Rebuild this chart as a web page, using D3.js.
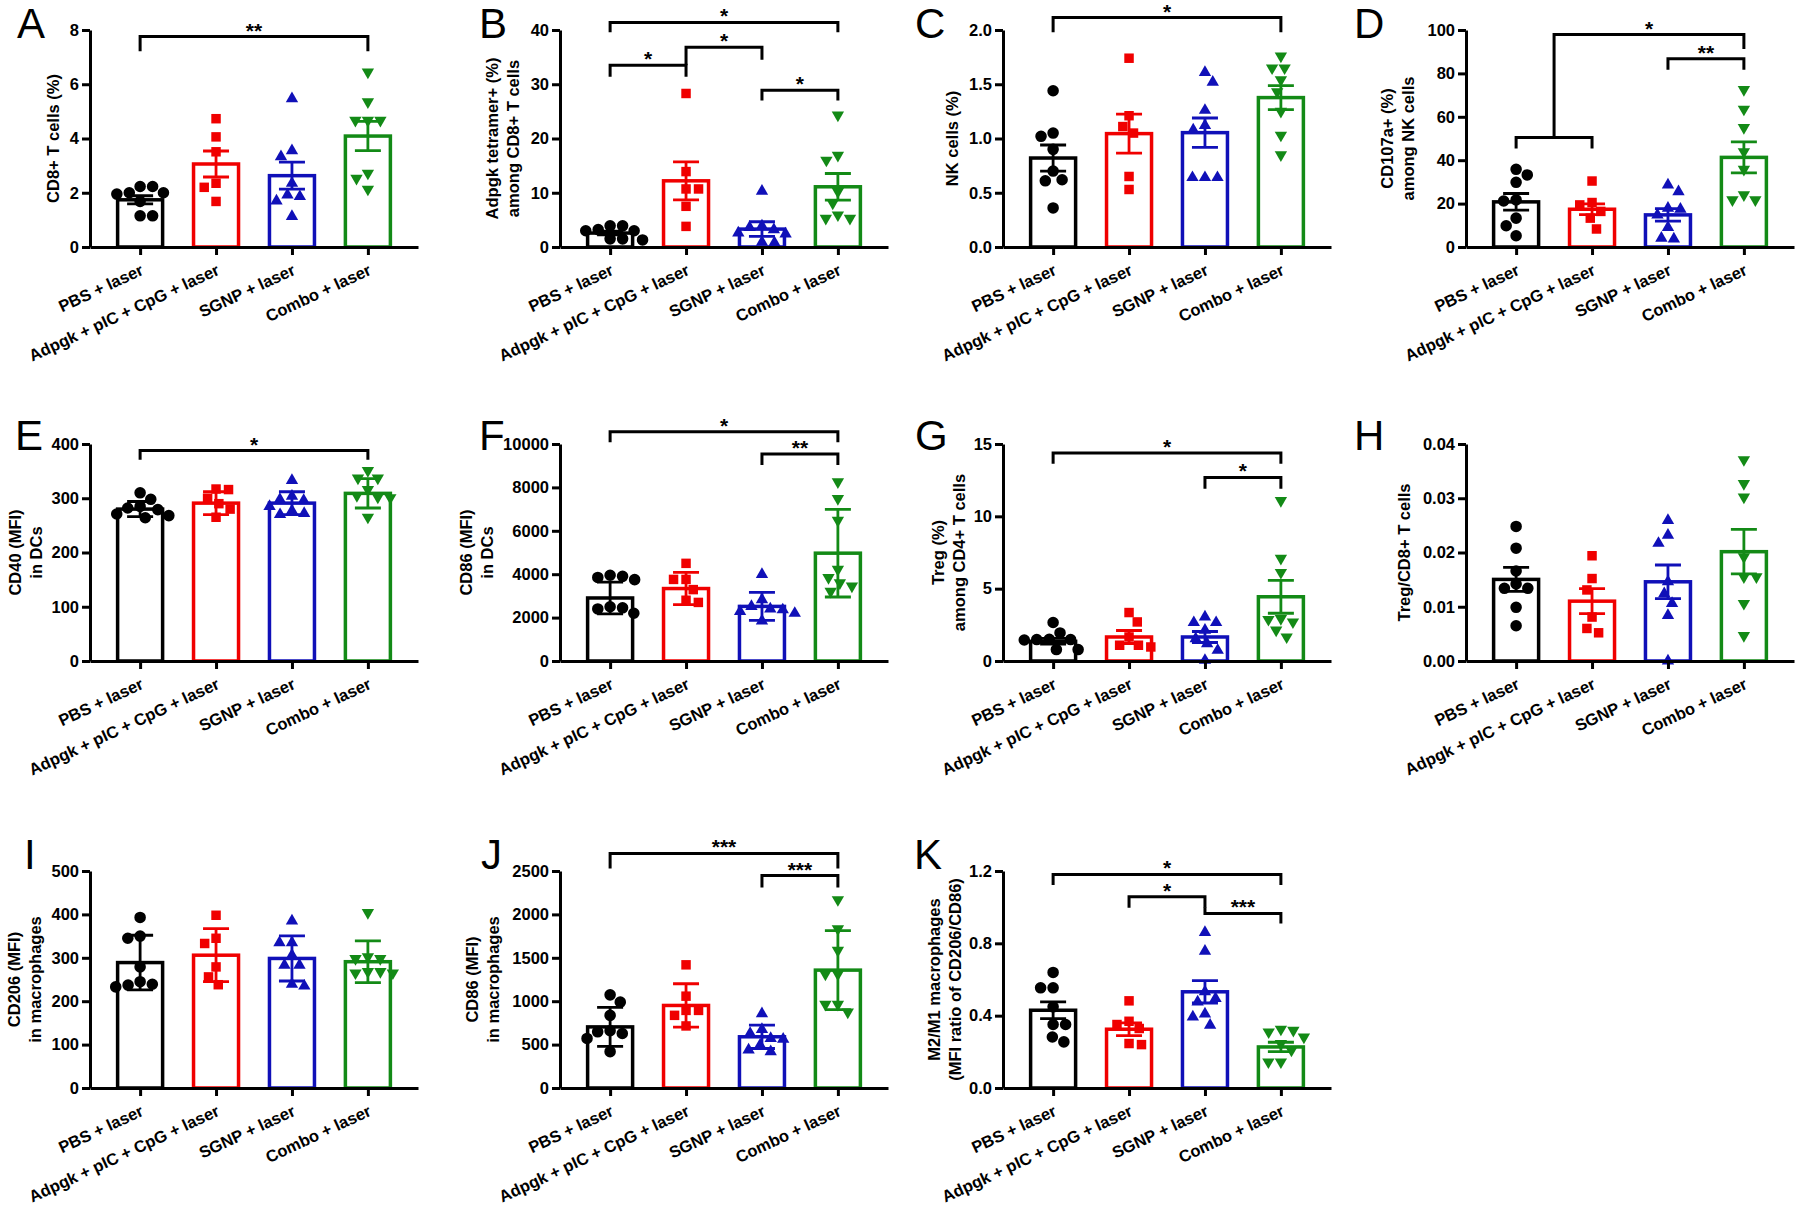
<!DOCTYPE html>
<html>
<head>
<meta charset="utf-8">
<script src="https://cdn.jsdelivr.net/npm/d3@7/dist/d3.min.js"></script>
<style>
  body { margin: 0; background: #fff; }
  svg text { font-family: "Liberation Sans", Arial, sans-serif; }
</style>
</head>
<body>
<svg id="fig" width="1800" height="1210"></svg>
<script>
var groups = ['PBS + laser', 'Adpgk + pIC + CpG + laser', 'SGNP + laser', 'Combo + laser'];
var colors = ['#000000', '#f00000', '#1010b8', '#138a16'];
var shapes = ['circle', 'square', 'triangle', 'triangleDown'];

// A: CD8+ T cells
var aPts = [
  [2.23, 2.23, 2.0, 1.95, 2.0, 1.68, 1.15, 1.15],
  [4.73, 4.06, 3.51, 2.35, 2.2, 1.68],
  [5.47, 3.55, 3.33, 2.35, 1.92, 1.86, 1.7, 1.13],
  [6.45, 5.35, 4.67, 4.67, 4.67, 2.72, 2.53, 2.13]
];
var aMean = [1.74, 3.06, 2.63, 4.09];
var aErr = [0.15, 0.48, 0.5, 0.54];
var aTicks = [0, 2, 4, 6, 8];
var aSig = [[0, 3, 7.76, 7.22, 7.22, '**']];

// B: Adpgk tetramer+
var bPts = [
  [3.9, 3.9, 3.2, 3.0, 3.0, 1.5, 1.5, 1.3],
  [28.3, 13.9, 10.7, 10.7, 7.5, 3.8],
  [10.3, 3.9, 3.6, 3.2, 2.6, 2.4, 0.9, 0.8],
  [24.3, 16.9, 16.0, 10.2, 8.1, 5.9, 5.3, 5.3]
];
var bMean = [2.57, 12.2, 3.3, 11.1];
var bErr = [0.35, 3.5, 1.35, 2.45];
var bTicks = [0, 10, 20, 30, 40];
var bSig = [[0, 3, 41.4, 39.6, 39.6, '*'], [0, 1, 33.5, 31.4, 31.4, '*'],
            [1, 2, 36.8, 33.5, 34.5, '*'], [2, 3, 28.9, 27.0, 27.0, '*']];

// C: NK cells
var cPts = [
  [1.44, 1.05, 1.02, 0.90, 0.70, 0.62, 0.61, 0.36],
  [1.74, 1.21, 1.11, 1.05, 0.65, 0.53],
  [1.61, 1.52, 1.26, 1.12, 1.08, 0.64, 0.64, 0.64],
  [1.76, 1.65, 1.65, 1.54, 1.43, 1.25, 1.03, 0.85]
];
var cMean = [0.82, 1.045, 1.054, 1.377];
var cErr = [0.12, 0.18, 0.135, 0.11];
var cTicks = [0, 0.5, 1.0, 1.5, 2.0];
var cSig = [[0, 3, 2.115, 1.98, 1.98, '*']];

// D: CD107a+ among NK
var dPts = [
  [35.8, 33.2, 29.8, 21.7, 21.2, 13.3, 9.8, 5.2],
  [30.4, 20.5, 19.4, 16.4, 13.3, 8.3],
  [28.6, 25.5, 17.9, 17.4, 14.8, 9.0, 4.1, 3.7],
  [72.5, 63.5, 55, 43.9, 35.8, 24, 21.7, 21.7]
];
var dMean = [20.8, 17.4, 14.8, 41.3];
var dErr = [3.85, 2.5, 2.9, 7.1];
var dTicks = [0, 20, 40, 60, 80, 100];
var dSig = [[0, 1, 50.5, 45.4, 45.4, ''], [0.5, 3, 97.9, 50.5, 91.3, '*'],
            [2, 3, 86.7, 81.7, 81.7, '**']];

// E: CD40 in DCs
var ePts = [
  [310, 298, 285, 282, 279, 271, 268, 264],
  [317, 316, 300, 290, 280, 265],
  [333, 304, 298, 296, 285, 277, 272, 270],
  [351, 337, 337, 316, 305, 302, 301, 265]
];
var eMean = [280, 291, 291, 309];
var eErr = [14, 21, 21, 27];
var eTicks = [0, 100, 200, 300, 400];
var eSig = [[0, 3, 388, 371, 371, '*']];

// F: CD86 in DCs
var fPts = [
  [3950, 3900, 3850, 3750, 2500, 2450, 2400, 2200],
  [4500, 3760, 3760, 3290, 2800, 2700],
  [3990, 2830, 2520, 2400, 2360, 2280, 2200, 1850],
  [8260, 7480, 6480, 4220, 3840, 3600, 3450, 3210]
];
var fMean = [2904, 3339, 2516, 4969];
var fErr = [730, 745, 645, 2020];
var fTicks = [0, 2000, 4000, 6000, 8000, 10000];
var fSig = [[0, 3, 10560, 10080, 10080, '*'], [2, 3, 9534, 9037, 9037, '**']];

// G: Treg among CD4+
var gPts = [
  [2.66, 1.94, 1.5, 1.48, 1.48, 1.45, 0.79, 0.79],
  [3.35, 2.7, 1.66, 1.09, 1.09, 0.97],
  [3.05, 2.66, 2.66, 2.13, 1.55, 1.2, 0.74, 0.05],
  [11.09, 7.09, 6.12, 2.93, 2.87, 2.7, 2.13, 1.66]
];
var gMean = [1.36, 1.66, 1.66, 4.44];
var gErr = [0.2, 0.45, 0.38, 1.14];
var gTicks = [0, 5, 10, 15];
var gSig = [[0, 3, 14.37, 13.63, 13.63, '*'], [2, 3, 12.69, 11.9, 11.9, '*']];

// H: Treg/CD8+
var hPts = [
  [0.0248, 0.0208, 0.0166, 0.0142, 0.0134, 0.0134, 0.0099, 0.0065],
  [0.0194, 0.0152, 0.0131, 0.0081, 0.006, 0.0052],
  [0.0259, 0.0232, 0.0217, 0.0146, 0.0124, 0.0106, 0.0084, 0.0],
  [0.0371, 0.0327, 0.0302, 0.0192, 0.0155, 0.0155, 0.0106, 0.0047]
];
var hMean = [0.01504, 0.01103, 0.0146, 0.02015];
var hErr = [0.0022, 0.0023, 0.0031, 0.0041];
var hTicks = [0, 0.01, 0.02, 0.03, 0.04];
var hSig = [];

// I: CD206 in macrophages
var iPts = [
  [393, 350, 345, 279, 245, 239, 237, 233],
  [398, 345, 333, 279, 256, 238],
  [385, 335, 335, 306, 283, 283, 239, 235],
  [404, 302, 298, 298, 268, 268, 265, 265]
];
var iMean = [289, 306, 298.5, 291];
var iErr = [63, 61, 52, 48];
var iTicks = [0, 100, 200, 300, 400, 500];
var iSig = [];

// J: CD86 in macrophages
var jPts = [
  [1073, 989, 837, 660, 647, 628, 571, 419],
  [1419, 1058, 894, 894, 837, 715],
  [856, 674, 628, 571, 563, 495, 438, 419],
  [2169, 1834, 1587, 1313, 1313, 963, 963, 875]
];
var jMean = [704, 951, 590, 1358];
var jErr = [225, 250, 135, 455];
var jTicks = [0, 500, 1000, 1500, 2000, 2500];
var jSig = [[0, 3, 2702, 2530, 2530, '***'], [2, 3, 2447, 2310, 2310, '***']];

// K: M2/M1 ratio
var kPts = [
  [0.639, 0.554, 0.554, 0.449, 0.351, 0.351, 0.282, 0.255],
  [0.482, 0.369, 0.351, 0.329, 0.246, 0.24],
  [0.86, 0.757, 0.532, 0.495, 0.476, 0.41, 0.393, 0.347],
  [0.325, 0.319, 0.31, 0.282, 0.246, 0.209, 0.144, 0.144]
];
var kMean = [0.43, 0.325, 0.532, 0.227];
var kErr = [0.046, 0.035, 0.062, 0.026];
var kTicks = [0, 0.4, 0.8, 1.2];
var kSig = [[0, 3, 1.181, 1.122, 1.122, '*'], [1, 2, 1.058, 0.997, 0.997, '*'],
            [2, 3, 0.965, 1.0, 0.91, '***']];

// layout
var colX = [90, 560, 1003, 1466];
var rowY0 = [247, 661, 1088];
var plotW = 328, plotH = 217;

var panels = [
  {key: 'A', col: 0, row: 0, lx: 17,  pts: aPts, mean: aMean, err: aErr, ticks: aTicks, fmt: 'd',   sig: aSig, labX: -37,   label: ['CD8+ T cells (%)']},
  {key: 'B', col: 1, row: 0, lx: 479, pts: bPts, mean: bMean, err: bErr, ticks: bTicks, fmt: 'd',   sig: bSig, labX: -57.5, label: ['Adpgk tetramer+ (%)', 'among CD8+ T cells']},
  {key: 'C', col: 2, row: 0, lx: 915, pts: cPts, mean: cMean, err: cErr, ticks: cTicks, fmt: '.1f', sig: cSig, labX: -51,   label: ['NK cells (%)']},
  {key: 'D', col: 3, row: 0, lx: 1354, pts: dPts, mean: dMean, err: dErr, ticks: dTicks, fmt: 'd',  sig: dSig, labX: -68,   label: ['CD107a+ (%)', 'among NK cells']},
  {key: 'E', col: 0, row: 1, lx: 15,  pts: ePts, mean: eMean, err: eErr, ticks: eTicks, fmt: 'd',   sig: eSig, labX: -64.5, label: ['CD40 (MFI)', 'in DCs']},
  {key: 'F', col: 1, row: 1, lx: 479, pts: fPts, mean: fMean, err: fErr, ticks: fTicks, fmt: 'd',   sig: fSig, labX: -83.5, label: ['CD86 (MFI)', 'in DCs']},
  {key: 'G', col: 2, row: 1, lx: 915, pts: gPts, mean: gMean, err: gErr, ticks: gTicks, fmt: 'd',   sig: gSig, labX: -54.5, label: ['Treg (%)', 'among CD4+ T cells']},
  {key: 'H', col: 3, row: 1, lx: 1354, pts: hPts, mean: hMean, err: hErr, ticks: hTicks, fmt: '.2f', sig: hSig, labX: -62,  label: ['Treg/CD8+ T cells']},
  {key: 'I', col: 0, row: 2, lx: 24,  pts: iPts, mean: iMean, err: iErr, ticks: iTicks, fmt: 'd',   sig: iSig, labX: -65,   label: ['CD206 (MFI)', 'in macrophages']},
  {key: 'J', col: 1, row: 2, lx: 481, pts: jPts, mean: jMean, err: jErr, ticks: jTicks, fmt: 'd',   sig: jSig, labX: -77,   label: ['CD86 (MFI)', 'in macrophages']},
  {key: 'K', col: 2, row: 2, lx: 914, pts: kPts, mean: kMean, err: kErr, ticks: kTicks, fmt: '.1f', sig: kSig, labX: -58.5, label: ['M2/M1 macrophages', '(MFI ratio of CD206/CD86)']}
];
var letterY = [38, 450, 869];

var symbolFor = {
  circle: d3.symbol().type(d3.symbolCircle).size(105),
  square: d3.symbol().type(d3.symbolSquare).size(90),
  triangle: d3.symbol().type(d3.symbolTriangle).size(66),
  triangleDown: d3.symbol().type(d3.symbolTriangle).size(66)
};

// simple beeswarm: offsets so markers of one group do not overlap
function swarm(vals, y, d) {
  var placed = [];
  var out = [];
  var order = vals.map(function(v, i) { return i; })
    .sort(function(a, b) { return vals[b] - vals[a]; });
  order.forEach(function(i, n) {
    var py = y(vals[i]);
    var cands = [0];
    placed.forEach(function(q) {
      var dy = Math.abs(q.y - py);
      if (dy < d) {
        var dx = Math.sqrt(d * d - dy * dy);
        cands.push(q.x - dx, q.x + dx);
      }
    });
    var side = n % 2 ? 1 : -1;
    cands.sort(function(a, b) {
      return (Math.abs(a) - Math.abs(b)) || (side * (b - a));
    });
    var best = cands.find(function(c) {
      return placed.every(function(q) {
        return (q.x - c) * (q.x - c) + (q.y - py) * (q.y - py) >= d * d - 0.01;
      });
    });
    placed.push({x: best, y: py});
    out[i] = {x: best, y: py, v: vals[i]};
  });
  return out;
}

var svg = d3.select('#fig');
svg.append('rect').attr('width', 1800).attr('height', 1210).attr('fill', '#fff');

panels.forEach(function(p) {
  var x0 = colX[p.col];
  var top = rowY0[p.row] - plotH;

  svg.append('text')
    .attr('x', p.lx).attr('y', letterY[p.row])
    .attr('font-size', 42)
    .text(p.key);

  var g = svg.append('g').attr('transform', 'translate(' + x0 + ',' + top + ')');
  var x = d3.scalePoint().domain(groups).range([0, plotW]).padding(0.66);
  var y = d3.scaleLinear().domain([0, p.ticks[p.ticks.length - 1]]).range([plotH, 0]);
  var xi = function(i) { return x(groups[0]) + i * x.step(); };

  // bars
  g.selectAll('rect.bar').data(p.mean)
    .enter().append('rect')
      .attr('class', 'bar')
      .attr('x', function(d, i) { return x(groups[i]) - 22.5; })
      .attr('y', function(d) { return y(d); })
      .attr('width', 45)
      .attr('height', function(d) { return plotH - y(d); })
      .attr('fill', '#fff')
      .attr('stroke', function(d, i) { return colors[i]; })
      .attr('stroke-width', 3.5);

  // points
  p.pts.forEach(function(vals, gi) {
    var cx = x(groups[gi]);
    var sym = symbolFor[shapes[gi]];
    g.selectAll('path.pt' + gi).data(swarm(vals, y, 12.5))
      .enter().append('path')
        .attr('class', 'pt' + gi)
        .attr('d', sym)
        .attr('fill', colors[gi])
        .attr('transform', function(d) {
          return 'translate(' + (cx + d.x) + ',' + d.y + ')' +
            (shapes[gi] === 'triangleDown' ? ' rotate(180)' : '');
        });
  });

  // error bars (mean +/- err)
  p.mean.forEach(function(m, gi) {
    var cx = x(groups[gi]);
    var e = p.err[gi];
    var hi = y(m + e), lo = y(Math.max(0, m - e));
    g.append('path')
      .attr('d', 'M' + cx + ',' + hi + 'V' + lo +
        'M' + (cx - 13) + ',' + hi + 'H' + (cx + 13) +
        'M' + (cx - 13) + ',' + lo + 'H' + (cx + 13))
      .attr('fill', 'none')
      .attr('stroke', colors[gi])
      .attr('stroke-width', 2.8);
  });

  // axes
  var yAxis = g.append('g')
    .call(d3.axisLeft(y).tickValues(p.ticks).tickSize(8).tickSizeOuter(0)
      .tickFormat(d3.format(p.fmt)));
  var xAxis = g.append('g')
    .attr('transform', 'translate(0,' + plotH + ')')
    .call(d3.axisBottom(x).tickSize(8).tickSizeOuter(0));
  [yAxis, xAxis].forEach(function(ax) {
    ax.selectAll('path, line').attr('stroke', '#000').attr('stroke-width', 3);
    ax.selectAll('text')
      .attr('fill', '#000')
      .attr('font-size', 16.5)
      .attr('font-weight', 'bold')
      .attr('font-family', '"Liberation Sans", Arial, sans-serif');
  });
  xAxis.selectAll('text')
    .attr('text-anchor', 'end')
    .attr('x', 0).attr('y', 0).attr('dy', null)
    .attr('transform', 'translate(4,27) rotate(-25)');

  // y label
  p.label.forEach(function(line, li) {
    var off = (li - (p.label.length - 1) / 2) * 21;
    g.append('text')
      .attr('transform', 'translate(' + (p.labX + off) + ',' + (plotH / 2) + ') rotate(-90)')
      .attr('text-anchor', 'middle')
      .attr('dy', '0.35em')
      .attr('font-size', 16.5)
      .attr('font-weight', 'bold')
      .text(line);
  });

  // significance brackets
  p.sig.forEach(function(s) {
    var x1 = xi(s[0]), x2 = xi(s[1]);
    g.append('path')
      .attr('d', 'M' + x1 + ',' + y(s[3]) + 'V' + y(s[2]) + 'H' + x2 + 'V' + y(s[4]))
      .attr('fill', 'none')
      .attr('stroke', '#000')
      .attr('stroke-width', 3);
    if (s[5]) {
      g.append('text')
        .attr('x', (x1 + x2) / 2)
        .attr('y', y(s[2]) + 1)
        .attr('text-anchor', 'middle')
        .attr('font-size', 21)
        .attr('font-weight', 'bold')
        .text(s[5]);
    }
  });
});
</script>
</body>
</html>
